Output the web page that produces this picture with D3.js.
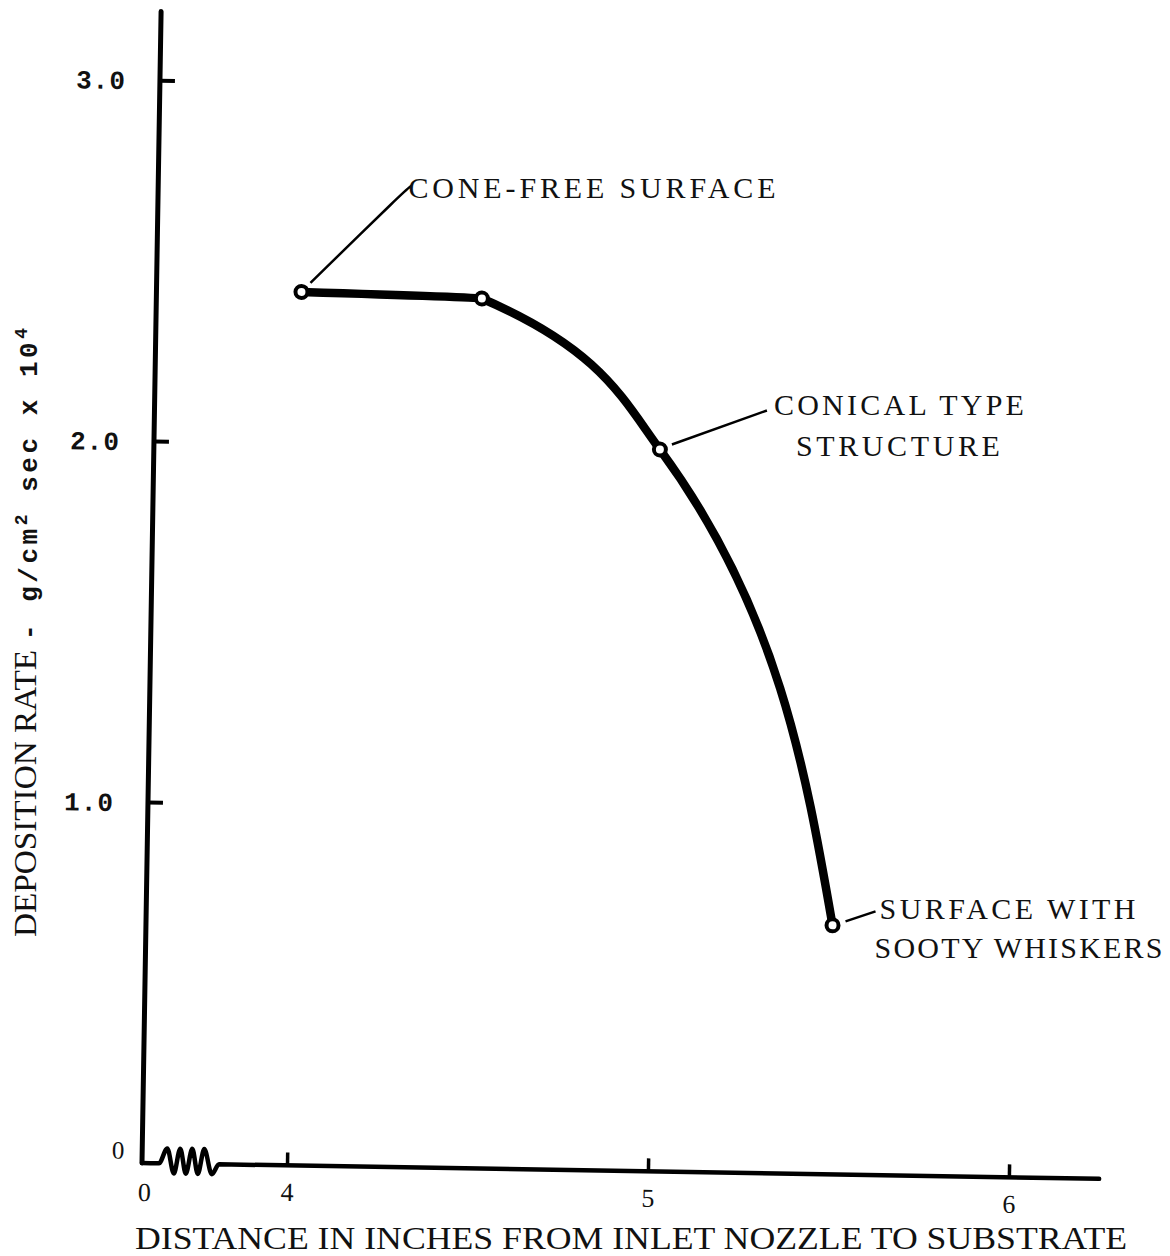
<!DOCTYPE html>
<html>
<head>
<meta charset="utf-8">
<script src="https://cdn.jsdelivr.net/npm/d3@7"></script>
<style>
  body { margin: 0; background: #fff; }
</style>
</head>
<body>
<div id="wrapper"></div>
<script>
// data
const distance = [4.0, 4.5, 5.0, 5.5];
const depositionRate = [2.42, 2.41, 2.0, 0.69];
const xTicks = [4, 5, 6];
const yTicks = [1.0, 2.0, 3.0];
const noteLines = [
  ["CONE-FREE SURFACE"],
  ["CONICAL TYPE", "STRUCTURE"],
  ["SURFACE WITH", "SOOTY WHISKERS"],
];
const notePoint = [0, 2, 3];

function drawChart() {
  const dims = {
    width: 1170,
    height: 1256,
    originX: 142,
    originY: 1163,
    unit: 361,
    tilt: 0.95, // the scan is a bit crooked
  };

  const svg = d3
    .select("#wrapper")
    .append("svg")
    .attr("width", dims.width)
    .attr("height", dims.height)
    .style("background", "#fff");

  const x = d3
    .scaleLinear()
    .domain([4, 6])
    .range([145, 145 + 2 * dims.unit]);
  const y = d3
    .scaleLinear()
    .domain([0, 3])
    .range([0, -3 * dims.unit]);

  const rad = (dims.tilt * Math.PI) / 180;
  const toScreen = (px, py) => [
    dims.originX + px * Math.cos(rad) - py * Math.sin(rad),
    dims.originY + px * Math.sin(rad) + py * Math.cos(rad),
  ];

  const plot = svg
    .append("g")
    .attr(
      "transform",
      `translate(${dims.originX},${dims.originY}) rotate(${dims.tilt})`
    );

  // y axis
  plot
    .append("line")
    .attr("x1", 0)
    .attr("y1", 0)
    .attr("x2", 0)
    .attr("y2", y(3.19))
    .attr("stroke", "#000")
    .attr("stroke-width", 5)
    .attr("stroke-linecap", "round");

  const yAxis = plot
    .append("g")
    .call(
      d3
        .axisLeft(y)
        .tickValues(yTicks)
        .tickSize(-15)
        .tickPadding(34)
        .tickFormat(d3.format(".1f"))
    );
  yAxis.select(".domain").remove();
  yAxis.selectAll(".tick line").attr("stroke", "#000").attr("stroke-width", 4);
  yAxis
    .selectAll(".tick text")
    .attr("fill", "#111")
    .attr("font-family", "Liberation Mono")
    .attr("font-weight", "bold")
    .attr("font-size", 26)
    .attr("letter-spacing", 1)
    .attr("dy", 9);

  // x axis with the break near zero
  const breakPts = [
    [0, 0], [17, 0], [25, -15], [32, 10], [38, -15], [44, 10],
    [50, -15], [56, 10], [62, -15], [70, 10], [77, 0], [x(6.25), 0],
  ];
  plot
    .append("path")
    .attr("d", d3.line().curve(d3.curveMonotoneX)(breakPts))
    .attr("fill", "none")
    .attr("stroke", "#000")
    .attr("stroke-width", 4.5)
    .attr("stroke-linecap", "round");

  const xAxis = plot
    .append("g")
    .call(
      d3
        .axisBottom(x)
        .tickValues(xTicks)
        .tickSize(-13)
        .tickPadding(17)
        .tickFormat(d3.format("d"))
    );
  xAxis.select(".domain").remove();
  xAxis.selectAll(".tick line").attr("stroke", "#000").attr("stroke-width", 3.5);
  xAxis
    .selectAll(".tick text")
    .attr("fill", "#111")
    .attr("font-family", "Liberation Serif")
    .attr("font-size", 26);

  // zero labels at the corner
  plot
    .append("text")
    .attr("x", 3)
    .attr("y", 38)
    .attr("text-anchor", "middle")
    .attr("font-family", "Liberation Serif")
    .attr("font-size", 26)
    .attr("fill", "#111")
    .text("0");
  plot
    .append("text")
    .attr("x", -24)
    .attr("y", -4)
    .attr("text-anchor", "middle")
    .attr("font-family", "Liberation Serif")
    .attr("font-size", 25)
    .attr("fill", "#111")
    .text("0");

  // curve + points
  const pts = distance.map((d, i) => [d, depositionRate[i]]);
  plot
    .append("path")
    .attr(
      "d",
      d3
        .line()
        .x((d) => x(d[0]))
        .y((d) => y(d[1]))
        .curve(d3.curveMonotoneY)(pts)
    )
    .attr("fill", "none")
    .attr("stroke", "#000")
    .attr("stroke-width", 8.5)
    .attr("stroke-linecap", "round");

  plot
    .selectAll(".pt")
    .data(pts)
    .join("circle")
    .attr("class", "pt")
    .attr("cx", (d) => x(d[0]))
    .attr("cy", (d) => y(d[1]))
    .attr("r", 6)
    .attr("fill", "#fff")
    .attr("stroke", "#000")
    .attr("stroke-width", 4);

  // annotations (kept level, the type was set straighter than the plot)
  const noteLayout = [
    { leader: [[9, -9], [104, -102], [110, -106]], text: [[107, -94]], len: [367] },
    { leader: [[12, -5], [107, -39]], text: [[114, -34], [136, 7]], len: [250, 204] },
    { leader: [[13, -4], [43, -14]], text: [[47, -6], [42, 33]], len: [256, 288] },
  ];

  noteLines.forEach((lines, k) => {
    const i = notePoint[k];
    const [sx, sy] = toScreen(x(distance[i]), y(depositionRate[i]));
    const lay = noteLayout[k];
    svg
      .append("path")
      .attr(
        "d",
        d3.line().curve(d3.curveBasis)(
          lay.leader.map(([dx, dy]) => [sx + dx, sy + dy])
        )
      )
      .attr("fill", "none")
      .attr("stroke", "#000")
      .attr("stroke-width", 2.5);
    lines.forEach((t, j) => {
      svg
        .append("text")
        .attr("x", sx + lay.text[j][0])
        .attr("y", sy + lay.text[j][1])
        .attr("font-family", "Liberation Serif")
        .attr("font-size", 30)
        .attr("fill", "#111")
        .attr("textLength", lay.len[j])
        .attr("lengthAdjust", "spacing")
        .text(t);
    });
  });

  // axis titles
  svg
    .append("text")
    .attr("x", 135)
    .attr("y", 1249)
    .attr("font-family", "Liberation Serif")
    .attr("font-size", 32)
    .attr("fill", "#111")
    .attr("textLength", 992)
    .attr("lengthAdjust", "spacingAndGlyphs")
    .text("DISTANCE IN INCHES FROM INLET NOZZLE TO SUBSTRATE");

  svg
    .append("text")
    .attr("transform", "translate(36,937) rotate(-90)")
    .attr("font-family", "Liberation Serif")
    .attr("font-size", 32)
    .attr("fill", "#111")
    .attr("textLength", 287)
    .attr("lengthAdjust", "spacingAndGlyphs")
    .text("DEPOSITION RATE");

  const unitLabel = svg
    .append("text")
    .attr("transform", "translate(37,640) rotate(-90)")
    .attr("font-family", "Liberation Mono")
    .attr("font-weight", "bold")
    .attr("font-size", 26)
    .attr("fill", "#111")
    .attr("textLength", 312)
    .attr("lengthAdjust", "spacing");
  unitLabel.append("tspan").text("- g/cm");
  unitLabel.append("tspan").attr("font-size", 18).attr("dy", -10).text("2");
  unitLabel.append("tspan").attr("dy", 10).text(" sec x 10");
  unitLabel.append("tspan").attr("font-size", 18).attr("dy", -10).text("4");
}

drawChart();
</script>
</body>
</html>
